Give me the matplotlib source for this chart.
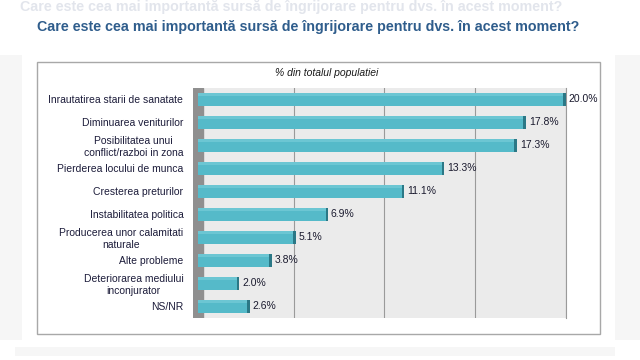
import matplotlib.pyplot as plt
from matplotlib.patches import Rectangle
import numpy as np

plt.rcParams['font.family'] = ['Liberation Sans', 'DejaVu Sans']

labels = ['Inrautatirea starii de sanatate', 'Diminuarea veniturilor',
          'Posibilitatea unui\nconflict/razboi in zona', 'Pierderea locului de munca',
          'Cresterea preturilor', 'Instabilitatea politica',
          'Producerea unor calamitati\nnaturale', 'Alte probleme',
          'Deteriorarea mediului\ninconjurator', 'NS/NR']
values = [20.0, 17.8, 17.3, 13.3, 11.1, 6.9, 5.1, 3.8, 2.0, 2.6]

title = 'Care este cea mai importantă sursă de îngrijorare pentru dvs. în acest moment?'
subtitle = '% din totalul populatiei'

W, H = 640, 360
fig = plt.figure(figsize=(6.4, 3.6), dpi=100, facecolor='white')

def fx(px):
    return px / W

def fy(py):
    return 1 - py / H

# faint blurred header / shadows from the slide behind
fig.text(fx(20), fy(7), title, fontsize=10.3, fontweight='bold', color='#e2e5ec',
         ha='left', va='center', zorder=0)
fig.patches.append(Rectangle((0, fy(340)), fx(22), fy(55) - fy(340), transform=fig.transFigure,
                             facecolor='#f6f6f6', edgecolor='none', zorder=0))
fig.patches.append(Rectangle((fx(615), fy(340)), fx(25), fy(55) - fy(340), transform=fig.transFigure,
                             facecolor='#f6f6f6', edgecolor='none', zorder=0))
fig.patches.append(Rectangle((fx(15), fy(356)), fx(600), fy(347) - fy(356), transform=fig.transFigure,
                             facecolor='#f6f6f6', edgecolor='none', zorder=0))

# panel
fig.patches.append(Rectangle((fx(37), fy(334)), fx(600 - 37), fy(62) - fy(334),
                             transform=fig.transFigure, facecolor='white',
                             edgecolor='#a8a8a8', lw=1.0, zorder=0.5))

fig.text(fx(308), fy(27), title, fontsize=10.3, fontweight='bold', color='#2f5d8c',
         ha='center', va='center')
fig.text(fx(327), fy(73), subtitle, fontsize=7.5, style='italic', color='#1a1a1a',
         ha='center', va='center')

ax = fig.add_axes([fx(193), fy(318), fx(566 - 193), fy(88) - fy(318)])
ax.set_zorder(2)
ax.set_facecolor('#ebebeb')
xmin = -0.55
ax.set_xlim(xmin, 20)
y = np.arange(len(values))
ax.set_ylim(len(values) - 0.5, -0.5)

ax.axvspan(xmin, 0, color='#8f8f8f', zorder=1)
for g in [5, 10, 15, 20]:
    ax.axvline(g, color='#9a9a9a', lw=0.8, zorder=1)

vals = np.array(values)
ax.barh(y, vals + 0.3, left=-0.3, height=0.6, color='#55bac9', zorder=2)
ax.barh(y - 0.22, vals + 0.3, left=-0.3, height=0.16, color='#6cc6d3', zorder=2)
ax.barh(y, 0.15, left=vals - 0.15, height=0.6, color='#2b7886', zorder=3)

for yi, v in zip(y, values):
    ax.text(v + 0.15, yi, f'{v:.1f}%', fontsize=7.5, color='#1a1a2e',
            va='center', ha='left', zorder=4, clip_on=False)

ax.set_yticks(y)
ax.set_yticklabels(labels, fontsize=7.5, color='#1c1c3a', multialignment='center')
ax.tick_params(axis='y', length=0, pad=7)
ax.set_xticks([])
for s in ['left', 'bottom', 'top']:
    ax.spines[s].set_visible(False)
ax.spines['right'].set_color('#9a9a9a')
ax.spines['right'].set_linewidth(0.8)

fig.savefig('out.png', dpi=100, facecolor='white')
